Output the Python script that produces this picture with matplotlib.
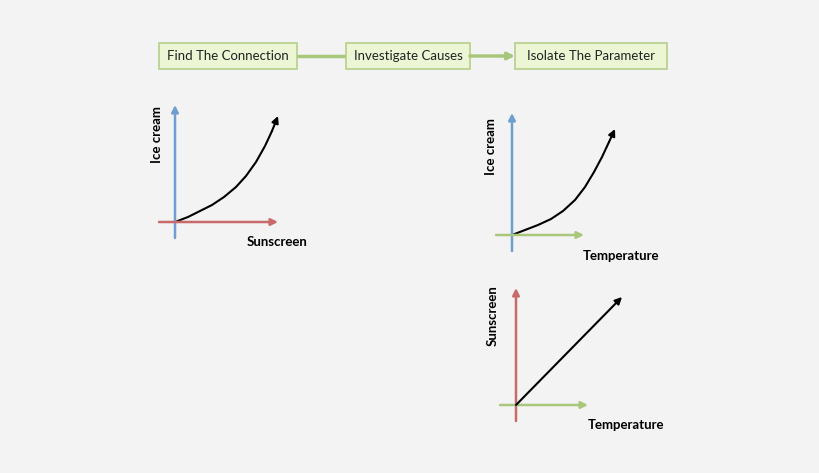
import matplotlib.pyplot as plt
from matplotlib.patches import FancyBboxPatch

plt.rcParams["font.family"] = ["Lato", "DejaVu Sans"]

# process steps
steps = ["Find The Connection", "Investigate Causes", "Isolate The Parameter"]
step_x = [228, 408, 591]
step_w = [138, 124, 152]

# chart 1: sunscreen vs ice cream (pixel coords)
c1_x = [175, 188, 200, 212, 224, 236, 246, 256, 265, 272, 278]
c1_y = [222, 217, 211, 205, 197, 187, 176, 162, 146, 131, 116]
# chart 2: temperature vs ice cream
c2_x = [512, 525, 538, 551, 563, 575, 585, 594, 602, 609, 615]
c2_y = [235, 230, 225, 219, 211, 200, 187, 172, 157, 142, 129]
# chart 3: temperature vs sunscreen
c3_x = [516, 622]
c3_y = [405, 297]

BLUE = "#6f9fd0"
RED = "#c96a6a"
GREEN = "#a9c77a"

fig = plt.figure(figsize=(8.2, 4.73), dpi=100)
fig.patch.set_facecolor("#f3f3f3")
ax = fig.add_axes([0, 0, 1, 1])
ax.set_xlim(0, 820)
ax.set_ylim(473, 0)
ax.axis("off")


def arrow(x0, y0, x1, y1, color, lw=1.8):
    ax.annotate("", xy=(x1, y1), xytext=(x0, y0),
                arrowprops=dict(arrowstyle="-|>", color=color,
                                lw=lw, mutation_scale=10, shrinkA=0, shrinkB=0))


# boxes and connectors
for label, cx, w in zip(steps, step_x, step_w):
    ax.add_patch(FancyBboxPatch((cx - w / 2, 43), w, 26, boxstyle="square,pad=0",
                                facecolor="#ecf6d4", edgecolor="#b5cf8a", lw=1.2, zorder=3))
    ax.text(cx, 56.5, label, ha="center", va="center", fontsize=9.5,
            color="#222222", zorder=4)
ax.plot([step_x[0] + step_w[0] / 2, step_x[1] - step_w[1] / 2], [56, 56],
        color=GREEN, lw=2.5)
arrow(step_x[1] + step_w[1] / 2, 56, step_x[2] - step_w[2] / 2, 56, GREEN, lw=2.5)


def chart(ox, oy, ytop, xright, ycol, xcol, xs, ys, ylab, xlab, ylab_pos, xlab_pos):
    arrow(ox, oy + 16, ox, ytop, ycol)
    arrow(ox - 16, oy, xright, oy, xcol)
    ax.plot(xs[:-1], ys[:-1], color="black", lw=1.5, solid_capstyle="round")
    ax.annotate("", xy=(xs[-1], ys[-1]), xytext=(xs[-2], ys[-2]),
                arrowprops=dict(arrowstyle="-|>", color="black", lw=1.5,
                                mutation_scale=10, shrinkA=0, shrinkB=0))
    ax.text(*ylab_pos, ylab, rotation=90, ha="center", va="center",
            fontsize=9.5, fontweight="bold")
    ax.text(*xlab_pos, xlab, ha="center", va="center", fontsize=9.5, fontweight="bold")


chart(175, 222, 105, 278, BLUE, RED, c1_x, c1_y, "Ice cream", "Sunscreen",
      (157, 135), (277, 242))
chart(512, 235, 113, 584, BLUE, GREEN, c2_x, c2_y, "Ice cream", "Temperature",
      (491, 147), (621, 256))
chart(516, 405, 288, 588, RED, GREEN, c3_x, c3_y, "Sunscreen", "Temperature",
      (493, 316), (626, 425))

fig.savefig("out.png", dpi=100, facecolor=fig.get_facecolor())
